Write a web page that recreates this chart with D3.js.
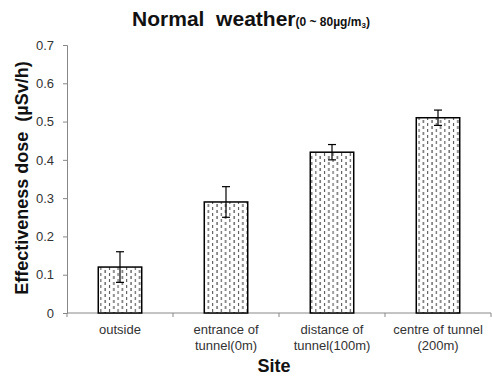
<!DOCTYPE html>
<html>
<head>
<meta charset="utf-8">
<script src="https://cdn.jsdelivr.net/npm/d3@7"></script>
<style>
  body { margin: 0; background: #fff; }
  svg { display: block; font-family: Arial, "Liberation Sans", sans-serif; }
</style>
</head>
<body>
<svg id="chart" width="492" height="376"></svg>
<script>
// chart data
var sites = ['outside', 'entrance of|tunnel(0m)', 'distance of|tunnel(100m)', 'centre of tunnel|(200m)'];
var doses = [0.12, 0.29, 0.42, 0.51];
var errors = [0.04, 0.04, 0.02, 0.02];
var yTicks = [0, 0.1, 0.2, 0.3, 0.4, 0.5, 0.6, 0.7];

var svg = d3.select('#chart');
var plotLeft = 67, plotRight = 491, plotTop = 45, plotBottom = 313;

var x = d3.scaleBand()
    .domain(sites)
    .range([plotLeft, plotRight])
    .paddingInner(0.59)
    .paddingOuter(0.295);

var y = d3.scaleLinear()
    .domain([0, 0.7])
    .range([plotBottom, plotTop]);

// dashed fill pattern
var pat = svg.append('defs').append('pattern')
    .attr('id', 'dash')
    .attr('patternUnits', 'userSpaceOnUse')
    .attr('width', 8.6)
    .attr('height', 6);
pat.append('rect').attr('width', 8.6).attr('height', 6).attr('fill', '#fff');
pat.append('rect').attr('x', 1.5).attr('y', 0).attr('width', 1).attr('height', 3).attr('fill', '#222');
pat.append('rect').attr('x', 5.8).attr('y', 3).attr('width', 1).attr('height', 3).attr('fill', '#444');

// axes
var yAxis = svg.append('g')
    .attr('transform', 'translate(' + plotLeft + ',0)')
    .call(d3.axisLeft(y).tickValues(yTicks).tickSize(4).tickFormat(function (d) { return d === 0 ? '0' : d3.format('.1f')(d); }));
yAxis.select('.domain').attr('stroke', '#888');
yAxis.selectAll('.tick line').attr('stroke', '#888');
yAxis.selectAll('.tick text').attr('font-size', 13).attr('fill', '#333').attr('dx', -6);

var xg = svg.append('g');
xg.append('line')
    .attr('x1', plotLeft).attr('x2', plotRight)
    .attr('y1', plotBottom).attr('y2', plotBottom)
    .attr('stroke', '#888');

var step = x.step();
xg.selectAll('line.tk')
    .data(d3.range(sites.length + 1))
    .enter().append('line')
    .attr('class', 'tk')
    .attr('x1', function (i) { return plotLeft + i * step; })
    .attr('x2', function (i) { return plotLeft + i * step; })
    .attr('y1', plotBottom).attr('y2', plotBottom + 4)
    .attr('stroke', '#888');

xg.selectAll('text.cat')
    .data(sites)
    .enter().append('text')
    .attr('class', 'cat')
    .attr('text-anchor', 'middle')
    .attr('font-size', 13)
    .attr('fill', '#333')
    .each(function (d) {
        var t = d3.select(this);
        d.split('|').forEach(function (line, i) {
            t.append('tspan')
                .attr('x', x(d) + x.bandwidth() / 2)
                .attr('y', 334 + i * 16)
                .text(line);
        });
    });

// bars
svg.selectAll('rect.bar')
    .data(doses)
    .enter().append('rect')
    .attr('class', 'bar')
    .attr('x', function (d, i) { return x(sites[i]); })
    .attr('y', function (d) { return y(d); })
    .attr('width', x.bandwidth())
    .attr('height', function (d) { return plotBottom - y(d); })
    .attr('fill', 'url(#dash)')
    .attr('stroke', '#000')
    .attr('stroke-width', 1.5);

// error bars
var eb = svg.selectAll('g.err')
    .data(doses)
    .enter().append('g')
    .attr('class', 'err')
    .attr('stroke', '#000')
    .attr('stroke-width', 1.2);
eb.append('line')
    .attr('x1', function (d, i) { return x(sites[i]) + x.bandwidth() / 2; })
    .attr('x2', function (d, i) { return x(sites[i]) + x.bandwidth() / 2; })
    .attr('y1', function (d, i) { return y(d + errors[i]); })
    .attr('y2', function (d, i) { return y(d - errors[i]); });
[1, -1].forEach(function (s) {
    eb.append('line')
        .attr('x1', function (d, i) { return x(sites[i]) + x.bandwidth() / 2 - 4; })
        .attr('x2', function (d, i) { return x(sites[i]) + x.bandwidth() / 2 + 4; })
        .attr('y1', function (d, i) { return y(d + s * errors[i]); })
        .attr('y2', function (d, i) { return y(d + s * errors[i]); });
});

// titles
var title = svg.append('text')
    .attr('x', 251).attr('y', 26)
    .attr('text-anchor', 'middle')
    .attr('font-weight', 'bold')
    .attr('fill', '#111');
title.append('tspan').attr('font-size', 21).attr('xml:space', 'preserve').text('Normal  weather');
title.append('tspan').attr('font-size', 12).text('(0 ~ 80µg/m');
title.append('tspan').attr('font-size', 8).attr('dy', 2).text('3');
title.append('tspan').attr('font-size', 12).attr('dy', -2).text(')');

svg.append('text')
    .attr('transform', 'translate(28,178) rotate(-90)')
    .attr('text-anchor', 'middle')
    .attr('font-size', 18)
    .attr('font-weight', 'bold')
    .attr('fill', '#111')
    .attr('xml:space', 'preserve')
    .text('Effectiveness dose  (µSv/h)');

svg.append('text')
    .attr('x', 274).attr('y', 372)
    .attr('text-anchor', 'middle')
    .attr('font-size', 18)
    .attr('font-weight', 'bold')
    .attr('fill', '#111')
    .text('Site');
</script>
</body>
</html>
